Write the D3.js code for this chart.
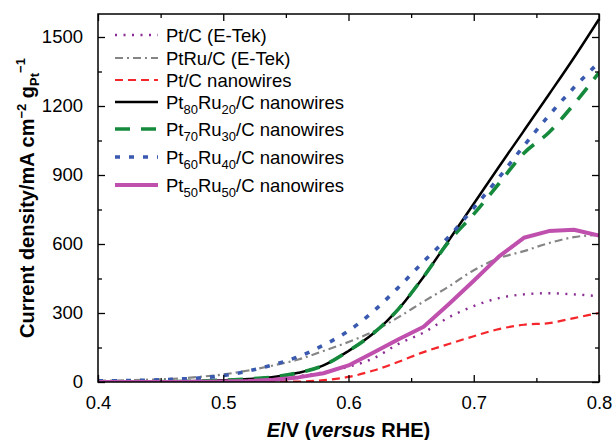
<!DOCTYPE html>
<html>
<head>
<meta charset="utf-8">
<script src="https://cdn.jsdelivr.net/npm/d3@7"></script>
<style>
html,body{margin:0;padding:0;background:#fff;}
svg text{font-family:"Liberation Sans",Arial,Helvetica,sans-serif;fill:#000;}
</style>
</head>
<body>
<svg id="chart" width="614" height="440"></svg>
<script>
// ---- data ----
const potentials = [0.40,0.42,0.44,0.46,0.48,0.50,0.52,0.54,0.56,0.58,0.60,0.62,0.64,0.66,0.68,0.70,0.72,0.74,0.76,0.78,0.80];
const ptcEtek     = [0,0,0,1,2,3,6,12,25,42,66,103,166,215,281,330,365,381,386,381,373];
const ptruEtek    = [5,7,10,14,22,33,50,72,98,135,174,220,282,350,415,486,538,569,604,630,640];
const ptcNanowire = [0,0,0,0,0,0,0,1,2,8,22,50,88,130,165,199,230,249,256,278,300];
const pt80ru20    = [0,0,1,2,4,8,13,22,40,72,135,212,318,458,615,775,935,1092,1250,1410,1578];
const pt70ru30    = [0,0,1,2,4,8,13,22,40,72,135,212,318,458,610,730,862,995,1085,1208,1345];
const pt60ru40    = [5,6,8,12,17,28,48,75,110,160,222,308,412,524,631,757,888,1027,1159,1280,1390];
const pt50ru50    = [0,0,0,0,1,2,4,10,20,38,72,128,186,240,338,440,545,627,656,662,637];
const xTicks = [0.4,0.5,0.6,0.7,0.8];
const yTicks = [0,300,600,900,1200,1500];

const seriesDefs = [
  {name:["Pt/C (E-Tek)"], values:ptcEtek, color:"#8a2c93", width:2.4, dash:"2,6.5", curve:"smooth"},
  {name:["PtRu/C (E-Tek)"], values:ptruEtek, color:"#858585", width:2.2, dash:"8,4,2,4", curve:"smooth"},
  {name:["Pt/C nanowires"], values:ptcNanowire, color:"#f5262b", width:2.2, dash:"8,5", curve:"smooth"},
  {name:["Pt","80","Ru","20","/C nanowires"], values:pt80ru20, color:"#000000", width:2.5, dash:null, curve:"smooth"},
  {name:["Pt","70","Ru","30","/C nanowires"], values:pt70ru30, color:"#168a3c", width:3.6, dash:"15,11", curve:"smooth"},
  {name:["Pt","60","Ru","40","/C nanowires"], values:pt60ru40, color:"#3a5ab0", width:3.6, dash:"5,9", curve:"smooth"},
  {name:["Pt","50","Ru","50","/C nanowires"], values:pt50ru50, color:"#c050ad", width:4, dash:null, curve:"linear"}
];

// ---- layout ----
const W = 614, H = 440;
const margin = {left:98, right:15, top:14, bottom:58};
const svg = d3.select("#chart");
const pw = W - margin.left - margin.right, ph = H - margin.top - margin.bottom;

const x = d3.scaleLinear().domain([0.4,0.8]).range([margin.left, margin.left+pw]);
const y = d3.scaleLinear().domain([0,1600]).range([margin.top+ph, margin.top]);

svg.append("defs").append("clipPath").attr("id","clip")
  .append("rect").attr("x",margin.left).attr("y",margin.top).attr("width",pw).attr("height",ph);

// ---- lines ----
const g = svg.append("g").attr("clip-path","url(#clip)");
seriesDefs.forEach(s=>{
  const line = d3.line()
    .x((d,i)=>x(potentials[i]))
    .y(d=>y(d))
    .curve(s.curve==="smooth"? d3.curveMonotoneX : d3.curveLinear);
  g.append("path").datum(s.values)
    .attr("d",line).attr("fill","none")
    .attr("stroke",s.color).attr("stroke-width",s.width)
    .attr("stroke-dasharray",s.dash)
    .attr("stroke-linejoin","round");
});

// ---- axes ----
function styleAxis(sel){
  sel.select(".domain").remove();
  sel.selectAll("line").attr("stroke","#000").attr("stroke-width",1.3);
  sel.selectAll("text").style("font-size","18.5px").attr("fill","#000");
}
const xMinor = d3.range(0.45,0.8,0.1);
const yMinor = d3.range(150,1600,300);

const xb = svg.append("g").attr("transform",`translate(0,${margin.top+ph})`)
  .call(d3.axisBottom(x).tickValues(xTicks).tickFormat(d3.format(".1f")).tickSizeInner(-7).tickSizeOuter(0).tickPadding(14));
styleAxis(xb);
const xbm = svg.append("g").attr("transform",`translate(0,${margin.top+ph})`)
  .call(d3.axisBottom(x).tickValues(xMinor).tickFormat("").tickSizeInner(-4).tickSizeOuter(0));
styleAxis(xbm);
const xt = svg.append("g").attr("transform",`translate(0,${margin.top})`)
  .call(d3.axisTop(x).tickValues(xTicks).tickFormat("").tickSizeInner(-7).tickSizeOuter(0));
styleAxis(xt);
const xtm = svg.append("g").attr("transform",`translate(0,${margin.top})`)
  .call(d3.axisTop(x).tickValues(xMinor).tickFormat("").tickSizeInner(-4).tickSizeOuter(0));
styleAxis(xtm);

const yl = svg.append("g").attr("transform",`translate(${margin.left},0)`)
  .call(d3.axisLeft(y).tickValues(yTicks).tickFormat(d3.format("d")).tickSizeInner(-7).tickSizeOuter(0).tickPadding(15));
styleAxis(yl);
const ylm = svg.append("g").attr("transform",`translate(${margin.left},0)`)
  .call(d3.axisLeft(y).tickValues(yMinor).tickFormat("").tickSizeInner(-4).tickSizeOuter(0));
styleAxis(ylm);
const yr = svg.append("g").attr("transform",`translate(${margin.left+pw},0)`)
  .call(d3.axisRight(y).tickValues(yTicks).tickFormat("").tickSizeInner(-7).tickSizeOuter(0));
styleAxis(yr);
const yrm = svg.append("g").attr("transform",`translate(${margin.left+pw},0)`)
  .call(d3.axisRight(y).tickValues(yMinor).tickFormat("").tickSizeInner(-4).tickSizeOuter(0));
styleAxis(yrm);

// frame
svg.append("rect").attr("x",margin.left).attr("y",margin.top).attr("width",pw).attr("height",ph)
  .attr("fill","none").attr("stroke","#000").attr("stroke-width",1.5);

// ---- axis titles ----
const xTitle = svg.append("text").attr("x",margin.left+pw/2).attr("y",437)
  .attr("text-anchor","middle").style("font-size","20px").style("font-weight","bold");
xTitle.append("tspan").style("font-style","italic").text("E");
xTitle.append("tspan").text("/V (");
xTitle.append("tspan").style("font-style","italic").text("versus");
xTitle.append("tspan").text(" RHE)");

const yTitle = svg.append("text")
  .attr("transform",`translate(34,${margin.top+ph/2}) rotate(-90)`)
  .attr("text-anchor","middle").style("font-size","20px").style("font-weight","bold");
yTitle.append("tspan").text("Current density/mA cm");
yTitle.append("tspan").attr("dy",-8).style("font-size","13px").text("\u22122");
yTitle.append("tspan").attr("dy",8).text(" g");
yTitle.append("tspan").attr("dy",5).style("font-size","13px").text("Pt");
yTitle.append("tspan").attr("dy",-14).style("font-size","13px").text("\u22121");

// ---- legend ----
const legendRows = [35,58,80,102,129,157,185];
const lg = svg.append("g");
seriesDefs.forEach((s,i)=>{
  const yy = legendRows[i];
  lg.append("line").attr("x1",115).attr("x2",158).attr("y1",yy).attr("y2",yy)
    .attr("stroke",s.color).attr("stroke-width",s.width).attr("stroke-dasharray",s.dash);
  const t = lg.append("text").attr("x",166).attr("y",yy+6.5).style("font-size","18.5px");
  if(s.name.length===1){
    t.text(s.name[0]);
  } else {
    t.append("tspan").text(s.name[0]);
    t.append("tspan").attr("dy",5).style("font-size","13px").text(s.name[1]);
    t.append("tspan").attr("dy",-5).text(s.name[2]);
    t.append("tspan").attr("dy",5).style("font-size","13px").text(s.name[3]);
    t.append("tspan").attr("dy",-5).text(s.name[4]);
  }
});
</script>
</body>
</html>
